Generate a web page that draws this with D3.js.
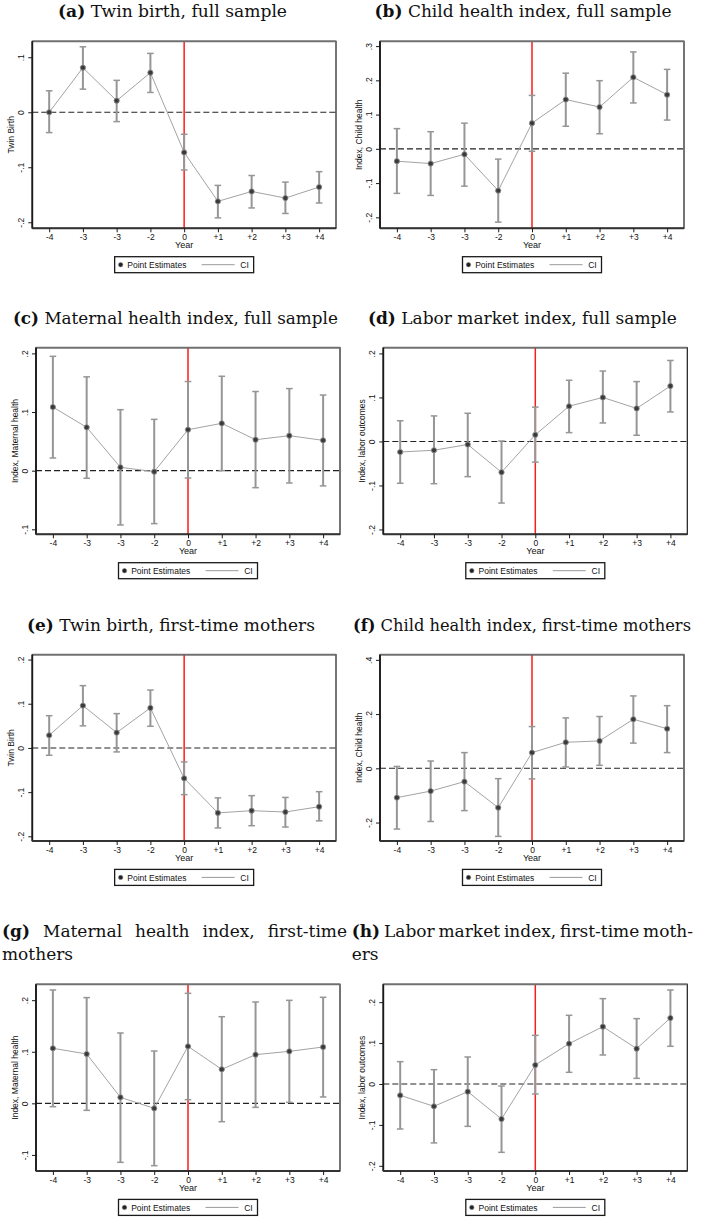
<!DOCTYPE html>
<html>
<head>
<meta charset="utf-8">
<script src="https://cdn.jsdelivr.net/npm/d3@7/dist/d3.min.js"></script>
<style>
  body { margin: 0; background: #fff; }
  svg { display: block; }
</style>
</head>
<body>
<script>
// Event-study estimates by year relative to the event (year 0).
const years = ["-4", "-3", "-3", "-2", "0", "+1", "+2", "+3", "+4"];

// (a) Twin birth, full sample
const twinFullEst = [0.000, 0.081, 0.021, 0.072, -0.073, -0.162, -0.144, -0.156, -0.136];
const twinFullLo  = [-0.037, 0.042, -0.017, 0.036, -0.105, -0.192, -0.174, -0.184, -0.165];
const twinFullHi  = [0.039, 0.119, 0.058, 0.107, -0.040, -0.133, -0.115, -0.127, -0.108];
const ticksA = [-0.2, -0.1, 0, 0.1];

// (b) Child health index, full sample
const childFullEst = [-0.036, -0.043, -0.016, -0.122, 0.075, 0.144, 0.122, 0.209, 0.158];
const childFullLo  = [-0.130, -0.136, -0.109, -0.214, -0.007, 0.066, 0.044, 0.134, 0.084];
const childFullHi  = [0.059, 0.050, 0.075, -0.030, 0.156, 0.221, 0.199, 0.283, 0.232];
const ticksB = [-0.2, -0.1, 0, 0.1, 0.2, 0.3];

// (c) Maternal health index, full sample
const matFullEst = [0.1085, 0.0739, 0.0057, -0.0017, 0.0699, 0.0807, 0.0528, 0.0597, 0.0517];
const matFullLo  = [0.0216, -0.013, -0.0926, -0.0903, -0.0125, 0.000, -0.029, -0.021, -0.026];
const matFullHi  = [0.195, 0.160, 0.104, 0.0875, 0.152, 0.161, 0.135, 0.140, 0.129];
const ticksC = [-0.1, 0, 0.1, 0.2];

// (d) Labor market index, full sample
const laborFullEst = [-0.024, -0.020, -0.007, -0.070, 0.015, 0.080, 0.100, 0.075, 0.126];
const laborFullLo  = [-0.095, -0.096, -0.080, -0.140, -0.047, 0.020, 0.042, 0.014, 0.067];
const laborFullHi  = [0.047, 0.058, 0.064, 0.001, 0.078, 0.139, 0.160, 0.136, 0.184];
const ticksD = [-0.2, -0.1, 0, 0.1, 0.2];

// (e) Twin birth, first-time mothers
const twinFirstEst = [0.0287, 0.0958, 0.0347, 0.0906, -0.0687, -0.147, -0.142, -0.145, -0.133];
const twinFirstLo  = [-0.0166, 0.050, -0.009, 0.049, -0.1057, -0.181, -0.176, -0.179, -0.165];
const twinFirstHi  = [0.073, 0.141, 0.0777, 0.131, -0.0317, -0.113, -0.108, -0.112, -0.099];
const ticksE = [-0.2, -0.1, 0, 0.1, 0.2];

// (f) Child health index, first-time mothers
const childFirstEst = [-0.108, -0.084, -0.049, -0.145, 0.058, 0.096, 0.101, 0.181, 0.146];
const childFirstLo  = [-0.224, -0.196, -0.156, -0.251, -0.039, 0.005, 0.011, 0.093, 0.058];
const childFirstHi  = [0.007, 0.027, 0.058, -0.038, 0.154, 0.186, 0.191, 0.267, 0.231];
const ticksF = [-0.2, 0, 0.2, 0.4];

// (g) Maternal health index, first-time mothers
const matFirstEst = [0.1067, 0.0957, 0.0116, -0.0097, 0.1105, 0.0659, 0.0944, 0.1008, 0.1092];
const matFirstLo  = [-0.0065, -0.0136, -0.1144, -0.1209, 0.0071, -0.0356, -0.0078, 0.0019, 0.0123];
const matFirstHi  = [0.2198, 0.205, 0.1364, 0.1015, 0.2133, 0.168, 0.1965, 0.1997, 0.2056];
const ticksG = [-0.1, 0, 0.1, 0.2];

// (h) Labor market index, first-time mothers
const laborFirstEst = [-0.0277, -0.0546, -0.0187, -0.0855, 0.0464, 0.0986, 0.1401, 0.0864, 0.1613];
const laborFirstLo  = [-0.110, -0.144, -0.1035, -0.167, -0.0244, 0.0285, 0.0709, 0.0138, 0.0921];
const laborFirstHi  = [0.0546, 0.035, 0.066, -0.0049, 0.1189, 0.1678, 0.2086, 0.1597, 0.2297];
const ticksH = [-0.2, -0.1, 0, 0.1, 0.2];

const legendLabels = ["Point Estimates", "CI"];
const xTitle = "Year";

// Panel layout: plot frame [left, top, right, bottom], y range shown,
// caption position and caption width.
const panels = [
  { tag: "(a)", lines: ["Twin birth, full sample"], ytitle: "Twin Birth",
    est: twinFullEst, lo: twinFullLo, hi: twinFullHi, ticks: ticksA, ydom: [-0.211, 0.129],
    frame: [32.3, 41.3, 336, 228.3], tx: 172.5, ty: 17, tw: 229 },
  { tag: "(b)", lines: ["Child health index, full sample"], ytitle: "Index, Child health",
    est: childFullEst, lo: childFullLo, hi: childFullHi, ticks: ticksB, ydom: [-0.232, 0.314],
    frame: [380, 41.3, 684, 228.3], tx: 523, ty: 17, tw: 297 },
  { tag: "(c)", lines: ["Maternal health index, full sample"], ytitle: "Index, Maternal health",
    est: matFullEst, lo: matFullLo, hi: matFullHi, ticks: ticksC, ydom: [-0.1085, 0.2097],
    frame: [36, 347.7, 340, 534.3], tx: 175.4, ty: 324, tw: 325 },
  { tag: "(d)", lines: ["Labor market index, full sample"], ytitle: "Index, labor outcomes",
    est: laborFullEst, lo: laborFullLo, hi: laborFullHi, ticks: ticksD, ydom: [-0.211, 0.213],
    frame: [383.3, 347.7, 687.3, 534.3], tx: 522.4, ty: 324, tw: 309 },
  { tag: "(e)", lines: ["Twin birth, first-time mothers"], ytitle: "Twin Birth",
    est: twinFirstEst, lo: twinFirstLo, hi: twinFirstHi, ticks: ticksE, ydom: [-0.2106, 0.211],
    frame: [32.3, 654.7, 336, 841], tx: 170.9, ty: 630.5, tw: 288 },
  { tag: "(f)", lines: ["Child health index, first-time mothers"], ytitle: "Index, Child health",
    est: childFirstEst, lo: childFirstLo, hi: childFirstHi, ticks: ticksF, ydom: [-0.268, 0.419],
    frame: [380, 654.7, 684, 841], tx: 522, ty: 630.5, tw: 338, size: 16.5 },
  { tag: "(g)", lines: ["Maternal health index, first-time", "mothers"], ytitle: "Index, Maternal health",
    est: matFirstEst, lo: matFirstLo, hi: matFirstHi, ticks: ticksG, ydom: [-0.1312, 0.2308],
    frame: [36, 984.3, 340, 1171], jx: [2, 347], ty: 937 },
  { tag: "(h)", lines: ["Labor market index, first-time moth-", "ers"], ytitle: "Index, labor outcomes",
    est: laborFirstEst, lo: laborFirstLo, hi: laborFirstHi, ticks: ticksH, ydom: [-0.2126, 0.2436],
    frame: [383.3, 984.3, 687.3, 1171], jx: [351.7, 693], ty: 937 }
];

const W = 701, H = 1217;
const svg = d3.select("body").append("svg").attr("width", W).attr("height", H);

const serif = "'DejaVu Serif', 'Liberation Serif', serif";
const sans = "'Liberation Sans', Arial, sans-serif";
const titleSize = 17;
const lineGap = 23;
const ink = "#1a1a1a";

const fmt = d => {
  if (d === 0) return "0";
  const s = String(+Math.abs(d).toFixed(2)).replace(/^0/, "");
  return (d < 0 ? "-" : "") + s;
};

function drawTitle(g, p) {
  if (!p.jx) {
    const t = g.append("text")
      .attr("x", p.tx).attr("y", p.ty)
      .attr("text-anchor", "middle")
      .attr("textLength", p.tw).attr("lengthAdjust", "spacingAndGlyphs")
      .attr("font-family", serif).attr("font-size", p.size || titleSize).attr("fill", "#111");
    t.append("tspan").attr("font-weight", "bold").text(p.tag);
    t.append("tspan").text(" " + p.lines[0]);
    return;
  }
  // Justified first line, ragged last line.
  p.lines.forEach((line, li) => {
    const words = (li === 0 ? [p.tag] : []).concat(line.split(" "));
    const y = p.ty + li * lineGap;
    const nodes = words.map((w, wi) => g.append("text")
      .attr("y", y)
      .attr("font-family", serif).attr("font-size", titleSize).attr("fill", "#111")
      .attr("font-weight", li === 0 && wi === 0 ? "bold" : null)
      .text(w));
    const widths = nodes.map(n => n.node().getComputedTextLength());
    const total = d3.sum(widths);
    const last = li === p.lines.length - 1;
    const gap = (!last && words.length > 1)
      ? (p.jx[1] - p.jx[0] - total) / (words.length - 1)
      : titleSize * 0.32;
    let x = p.jx[0];
    nodes.forEach((n, i) => { n.attr("x", x); x += widths[i] + gap; });
  });
}

panels.forEach(p => {
  const g = svg.append("g");
  const [L, T, R, B] = p.frame;

  drawTitle(g, p);

  const x = d3.scalePoint().domain(d3.range(years.length)).range([L, R]).padding(0.5);
  const y = d3.scaleLinear().domain(p.ydom).range([B, T]);

  // zero reference line
  g.append("line")
    .attr("x1", L).attr("x2", R).attr("y1", y(0)).attr("y2", y(0))
    .attr("stroke", "#222").attr("stroke-width", 1.1).attr("stroke-dasharray", "6,3");

  // event year marker
  g.append("line")
    .attr("x1", x(4)).attr("x2", x(4)).attr("y1", T).attr("y2", B)
    .attr("stroke", "#ff1a1a").attr("stroke-width", 1.5);

  // confidence intervals
  const idx = d3.range(years.length);
  const ci = g.append("g").attr("stroke", "#969696").attr("stroke-width", 2).attr("fill", "none");
  ci.selectAll("line.v").data(idx).join("line").attr("class", "v")
    .attr("x1", i => x(i)).attr("x2", i => x(i))
    .attr("y1", i => y(p.lo[i])).attr("y2", i => y(p.hi[i]));
  ci.selectAll("line.lo").data(idx).join("line").attr("class", "lo")
    .attr("stroke-width", 1.5)
    .attr("x1", i => x(i) - 3.3).attr("x2", i => x(i) + 3.3)
    .attr("y1", i => y(p.lo[i])).attr("y2", i => y(p.lo[i]));
  ci.selectAll("line.hi").data(idx).join("line").attr("class", "hi")
    .attr("stroke-width", 1.5)
    .attr("x1", i => x(i) - 3.3).attr("x2", i => x(i) + 3.3)
    .attr("y1", i => y(p.hi[i])).attr("y2", i => y(p.hi[i]));

  // connecting line
  g.append("path")
    .datum(idx)
    .attr("fill", "none").attr("stroke", "#a3a3a3").attr("stroke-width", 1)
    .attr("d", d3.line().x(i => x(i)).y(i => y(p.est[i])));

  // point estimates
  g.selectAll("circle.pt").data(idx).join("circle").attr("class", "pt")
    .attr("cx", i => x(i)).attr("cy", i => y(p.est[i])).attr("r", 2.6)
    .attr("fill", "#3a3a3a").attr("stroke", "#8c8c8c").attr("stroke-width", 0.9);

  // plot frame (top edge drawn heavier and grey)
  g.append("rect")
    .attr("x", L).attr("y", T).attr("width", R - L).attr("height", B - T)
    .attr("fill", "none").attr("stroke", ink).attr("stroke-width", 1.2);
  g.append("line").attr("x1", L).attr("x2", R).attr("y1", T).attr("y2", T)
    .attr("stroke", "#707070").attr("stroke-width", 1.8);

  // y axis
  const ya = g.append("g").attr("transform", `translate(${L},0)`)
    .call(d3.axisLeft(y).tickValues(p.ticks).tickFormat(fmt).tickSize(4).tickSizeOuter(0));
  ya.select(".domain").attr("stroke", ink).attr("stroke-width", 1.8)
    .attr("d", `M0,${T}V${B}`);
  ya.selectAll(".tick line").attr("stroke", ink);
  ya.selectAll(".tick text")
    .attr("transform", "rotate(-90)")
    .attr("x", 0).attr("y", -8).attr("dy", 0)
    .attr("text-anchor", "middle")
    .attr("font-family", sans).attr("font-size", 8.5).attr("fill", "#111");

  // x axis
  const xa = g.append("g").attr("transform", `translate(0,${B})`)
    .call(d3.axisBottom(x).tickFormat(i => years[i]).tickSize(4).tickSizeOuter(0).tickPadding(2));
  xa.select(".domain").attr("stroke", "#333").attr("stroke-width", 2)
    .attr("d", `M${L},0H${R}`);
  xa.selectAll(".tick line").attr("stroke", ink);
  xa.selectAll(".tick text")
    .attr("font-family", sans).attr("font-size", 8.5).attr("fill", "#111");

  // axis titles
  g.append("text")
    .attr("x", (L + R) / 2).attr("y", B + 20)
    .attr("text-anchor", "middle")
    .attr("font-family", sans).attr("font-size", 9).attr("fill", "#111")
    .text(xTitle);
  g.append("text")
    .attr("transform", `translate(${L - 18},${(T + B) / 2}) rotate(-90)`)
    .attr("text-anchor", "middle")
    .attr("font-family", sans).attr("font-size", 8.5).attr("fill", "#111")
    .text(p.ytitle);

  // legend
  const lx = (L + R) / 2 - 69.5, ly = B + 28.4;
  const lg = g.append("g").attr("transform", `translate(${lx},${ly})`);
  lg.append("rect").attr("width", 139).attr("height", 16)
    .attr("fill", "#fff").attr("stroke", ink).attr("stroke-width", 1.3);
  lg.append("circle").attr("cx", 6).attr("cy", 8).attr("r", 2.2)
    .attr("fill", "#222").attr("stroke", "#777").attr("stroke-width", 0.6);
  lg.append("text").attr("x", 12.7).attr("y", 11.2)
    .attr("font-family", sans).attr("font-size", 8.5).attr("fill", "#111")
    .text(legendLabels[0]);
  lg.append("line").attr("x1", 87).attr("x2", 120).attr("y1", 8).attr("y2", 8)
    .attr("stroke", "#9a9a9a").attr("stroke-width", 1);
  lg.append("text").attr("x", 125.7).attr("y", 11.2)
    .attr("font-family", sans).attr("font-size", 8.5).attr("fill", "#111")
    .text(legendLabels[1]);
});
</script>
</body>
</html>
